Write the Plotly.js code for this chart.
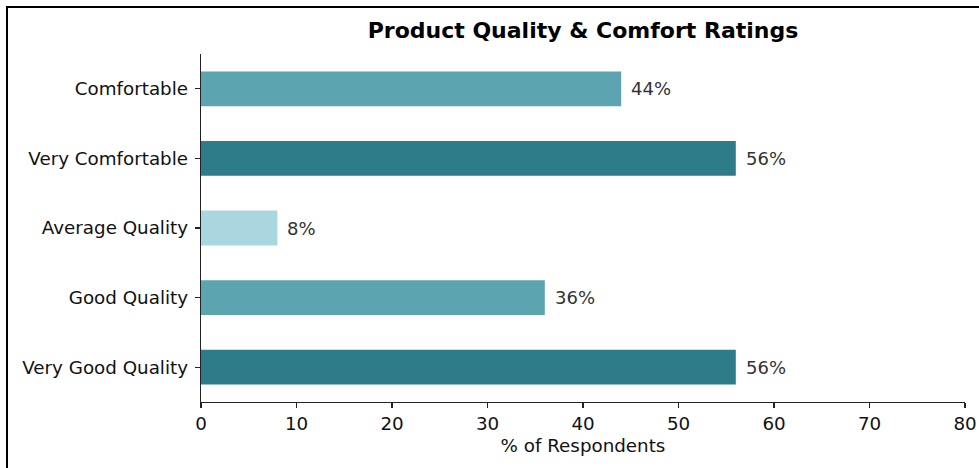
<!DOCTYPE html>
<html>
<head>
<meta charset="utf-8">
<script src="https://cdn.plot.ly/plotly-3.0.1.min.js"></script>
<style>
html,body{margin:0;padding:0;background:#fff;}
#wrap{position:relative;width:979px;height:468px;overflow:hidden;}
#chart{position:absolute;left:0;top:0;width:979px;height:468px;}
#frame{position:absolute;left:6px;top:6px;width:1000px;height:600px;border:2px solid #000;pointer-events:none;box-sizing:border-box;}
</style>
</head>
<body>
<div id="wrap"><div id="chart"></div><div id="frame"></div></div>
<script>
const categories = ["Comfortable", "Very Comfortable", "Average Quality", "Good Quality", "Very Good Quality"];
const values = [44, 56, 8, 36, 56];
const valueLabels = ["44%", "56%", "8%", "36%", "56%"];
const barColors = ["#5ca4b0", "#2e7b8a", "#a9d6df", "#5ca4b0", "#2e7b8a"];
const xTicks = [0, 10, 20, 30, 40, 50, 60, 70, 80];

const font = "DejaVu Sans, Verdana, sans-serif";

const trace = {
  type: "bar",
  orientation: "h",
  x: values,
  y: categories,
  width: 0.5,
  marker: {color: barColors, line: {width: 0}},
  hoverinfo: "none"
};

const annotations = categories.map((c, i) => ({
  x: values[i], y: c, xref: "x", yref: "y",
  text: valueLabels[i], showarrow: false,
  xanchor: "left", yanchor: "middle", xshift: 8,
  font: {family: font, size: 18, color: "#333333"}
}));

const layout = {
  width: 979, height: 468,
  margin: {l: 201, r: 14, t: 54, b: 66, pad: 0},
  paper_bgcolor: "rgba(0,0,0,0)",
  plot_bgcolor: "#ffffff",
  showlegend: false,
  title: {
    text: "<b>Product Quality & Comfort Ratings</b>",
    font: {family: font, size: 22, color: "#000"},
    xref: "paper", x: 0.5, xanchor: "center",
    yref: "container", y: 1 - 30/468, yanchor: "middle"
  },
  xaxis: {
    range: [0, 80], tickvals: xTicks, ticktext: xTicks.map(String),
    showgrid: false, zeroline: false,
    showline: true, linecolor: "#222", linewidth: 1.3,
    ticks: "outside", ticklen: 5, tickwidth: 1.2, tickcolor: "#222",
    tickfont: {family: font, size: 18.3, color: "#111"},
    title: {text: "% of Respondents", font: {family: font, size: 18.3, color: "#111"}, standoff: 6}
  },
  yaxis: {
    range: [4.5, -0.5], type: "category",
    showgrid: false, zeroline: false,
    showline: true, linecolor: "#222", linewidth: 1.3,
    ticks: "outside", ticklen: 5, tickwidth: 1.2, tickcolor: "#222",
    tickfont: {family: font, size: 18.3, color: "#111"},
    ticklabelstandoff: 3
  },
  annotations: annotations
};

Plotly.newPlot("chart", [trace], layout, {displayModeBar: false, staticPlot: true});
</script>
</body>
</html>
